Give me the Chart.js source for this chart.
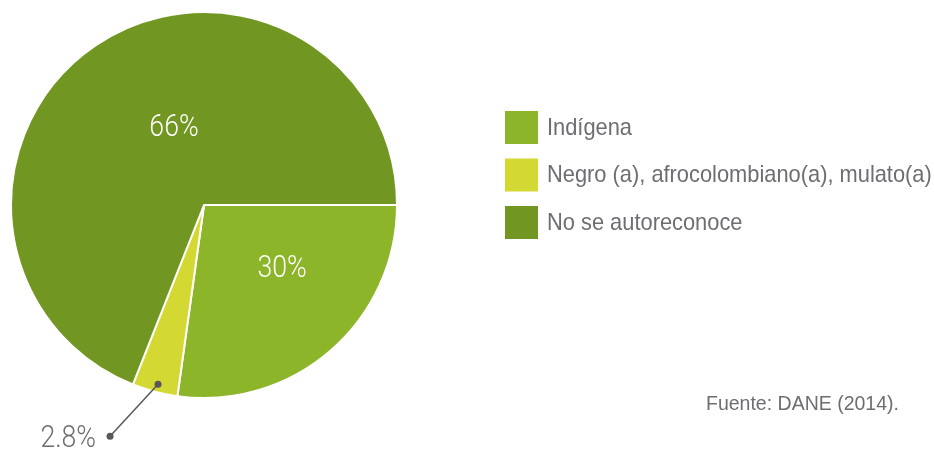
<!DOCTYPE html>
<html>
<head>
<meta charset="utf-8">
<script src="https://cdn.jsdelivr.net/npm/chart.js@4"></script>
<style>
  html, body { margin: 0; padding: 0; background: #fff; }
  #wrap { width: 934px; height: 450px; position: relative; }
</style>
</head>
<body>
<div id="wrap"><canvas id="pieChart" width="934" height="450"></canvas></div>
<script>
// Data
const categories = ['Indígena', 'Negro (a), afrocolombiano(a), mulato(a)', 'No se autoreconoce'];
const sliceValues = [27.2, 3.8, 69.0];
const sliceLabels = ['30%', '2.8%', '66%'];
const sourceNote = 'Fuente: DANE (2014).';

const colors = ['#8db52a', '#d4d832', '#719722'];
const FONT = '"Liberation Sans", Arial, sans-serif';
const LABEL_FONT = '300 31px Roboto, "Liberation Sans", sans-serif';

// text squeezed horizontally, the original uses a narrow face
function drawText(ctx, text, x, y, font, sx, align) {
    ctx.save();
    ctx.font = font;
    ctx.textBaseline = 'middle';
    ctx.textAlign = align;
    ctx.translate(x, y);
    ctx.scale(sx, 1);
    ctx.fillText(text, 0, 0);
    ctx.restore();
}

// draws the labels, leader line, legend and source note
const decorations = {
    id: 'decorations',
    afterDatasetsDraw(chart) {
        const ctx = chart.ctx;
        const arcs = chart.getDatasetMeta(0).data;
        ctx.save();

        // inside labels (angle offset / radius per slice)
        const inside = {0: {angle: -10, r: 0.52}, 2: {angle: 13, r: 0.43}};
        Object.keys(inside).forEach(i => {
            const a = arcs[i];
            const p = inside[i];
            const mid = (a.startAngle + a.endAngle) / 2 + p.angle * Math.PI / 180;
            const x = a.x + Math.cos(mid) * a.outerRadius * p.r;
            const y = a.y + Math.sin(mid) * a.outerRadius * p.r;
            ctx.fillStyle = '#ffffff';
            drawText(ctx, sliceLabels[i], x, y + 1, LABEL_FONT, 0.86, 'center');
        });

        // leader line for the small slice
        const s = arcs[1];
        const mid = (s.startAngle + s.endAngle) / 2;
        const x1 = s.x + Math.cos(mid) * s.outerRadius * 0.955 + 1;
        const y1 = s.y + Math.sin(mid) * s.outerRadius * 0.955 + 1;
        const x2 = x1 - 48, y2 = y1 + 52;
        ctx.strokeStyle = '#58585a';
        ctx.fillStyle = '#58585a';
        ctx.lineWidth = 1.5;
        ctx.beginPath();
        ctx.moveTo(x1, y1);
        ctx.lineTo(x2, y2);
        ctx.stroke();
        [[x1, y1], [x2, y2]].forEach(([x, y]) => {
            ctx.beginPath();
            ctx.arc(x, y, 3.5, 0, Math.PI * 2);
            ctx.fill();
        });
        ctx.fillStyle = '#6d6e71';
        drawText(ctx, sliceLabels[1], x2 - 14, y2 + 3, LABEL_FONT, 0.86, 'right');

        // legend
        categories.forEach((c, i) => {
            const y = 127 + i * 47.5;
            ctx.fillStyle = colors[i];
            ctx.fillRect(505, y - 16, 33, 33);
            ctx.fillStyle = '#6d6e71';
            drawText(ctx, c, 547, y + 1, '24px ' + FONT, 0.91, 'left');
        });

        // source
        drawText(ctx, sourceNote, 706, 405, '19.5px ' + FONT, 1.0, 'left');
        ctx.restore();
    }
};

new Chart(document.getElementById('pieChart'), {
    type: 'pie',
    data: {
        labels: categories,
        datasets: [{
            data: sliceValues,
            backgroundColor: colors,
            borderColor: '#ffffff',
            borderWidth: 2
        }]
    },
    options: {
        responsive: false,
        animation: false,
        rotation: 90,
        layout: {
            padding: {left: 10, top: 11, right: 536, bottom: 51}
        },
        plugins: {
            legend: {display: false},
            tooltip: {enabled: false}
        }
    },
    plugins: [decorations]
});
</script>
</body>
</html>
